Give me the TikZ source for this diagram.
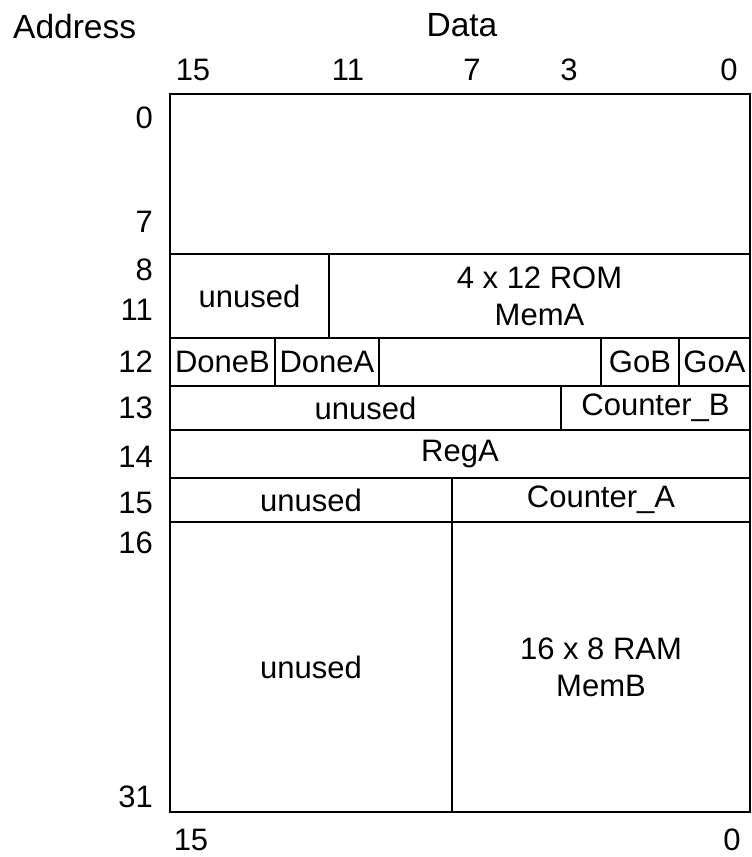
\documentclass[tikz,border=0pt]{standalone}
\usepackage{fontspec}
\setmainfont{Liberation Sans}
\usetikzlibrary{positioning, calc}

\tikzset{
  cellline/.style={draw=black, line width=1.8pt},
  celltext/.style={inner sep=0pt, align=center, font=\fontsize{31}{37}\selectfont},
  bitlabel/.style={inner sep=0pt, font=\fontsize{31}{37}\selectfont},
  headlabel/.style={inner sep=0pt, font=\fontsize{33.5}{40}\selectfont},
  addrlabel/.style={inner sep=0pt, anchor=east, font=\fontsize{31}{37}\selectfont}
}
% one cell of the memory map: name, x1, y1, x2, y2, text
\newcommand{\memcell}[6]{%
  \draw[cellline] (#2,#3) rectangle (#4,#5);
  \node[celltext] (#1) at ({(#2+#4)/2},{(#3+#5)/2}) {#6};}

\begin{document}
\begin{tikzpicture}[x=1pt, y=-1pt]
  \useasboundingbox (0,0) rectangle (752,857);

  % headings
  \node[headlabel, anchor=west] (address) at (13,27) {Address};
  \node[headlabel] (data) at (462,25) {Data};

  % data bit numbers
  \foreach \b/\x in {15/193, 11/348, 7/472, 3/569, 0/729}
    \node[bitlabel] (top\b) at (\x,70) {\b};
  \node[bitlabel] (bot15) at (191,840) {15};
  \node[bitlabel] (bot0) at (732,840) {0};

  % addresses
  \foreach \a/\y in {0/118, 7/222, 8/270, 11/310, 12/362, 13/408, 14/457, 15/503, 16/543, 31/797}
    \node[addrlabel] (addr\a) at (153,\y) {\a};

  % memory map
  \memcell{blank}{170}{94}{750}{254}{}
  \memcell{unusedA}{170}{254}{329}{338}{unused}
  \memcell{memA}{329}{254}{750}{338}{4 x 12 ROM\\MemA}
  \memcell{doneB}{170}{338}{275}{386}{DoneB}
  \memcell{doneA}{275}{338}{379}{386}{DoneA}
  \memcell{gap}{379}{338}{601}{386}{}
  \memcell{goB}{601}{338}{679}{386}{GoB}
  \memcell{goA}{679}{338}{750}{386}{GoA}
  \memcell{unusedB}{170}{386}{561}{430}{unused}
  \memcell{counterB}{561}{386}{750}{430}{Counter\_B}
  \memcell{regA}{170}{430}{750}{478}{RegA}
  \memcell{unusedC}{170}{478}{452}{522}{unused}
  \memcell{counterA}{452}{478}{750}{522}{Counter\_A}
  \memcell{unusedD}{170}{522}{452}{812}{unused}
  \memcell{memB}{452}{522}{750}{812}{16 x 8 RAM\\MemB}
\end{tikzpicture}
\end{document}
